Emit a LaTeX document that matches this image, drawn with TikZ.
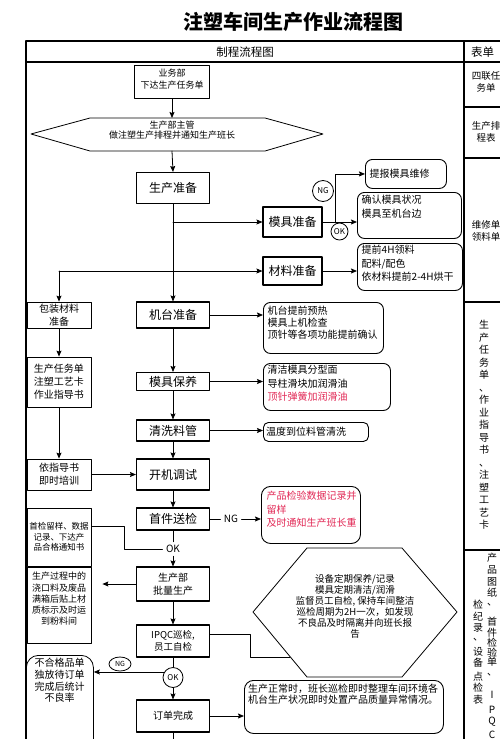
\documentclass[tikz,border=0pt]{standalone}
\usepackage{fontspec}
\setmainfont{Noto Sans CJK SC}
\usetikzlibrary{arrows.meta, shapes.geometric, calc}
\newcommand\fsz[2]{\fontsize{#1}{#2}\selectfont}
\definecolor{redtxt}{RGB}{225,40,85}

\begin{document}
\begin{tikzpicture}[line cap=round,line join=round,x=1pt,y=-1pt,
  frame/.style={line width=1.1pt},
  ln/.style={line width=0.8pt},
  arr/.style={-{Stealth[length=6pt,width=5pt,inset=1pt]},line width=0.8pt},
  box/.style={draw,line width=1.1pt,minimum width=73,inner sep=1pt,align=center,font=\fsz{12}{14}},
  lbox/.style={draw,line width=0.8pt,minimum width=64,inner sep=1pt,align=center,font=\fsz{10}{13}},
  rbox/.style={draw,line width=0.9pt,rounded corners=7pt,anchor=north west,inner sep=0pt},
  btxt/.style={anchor=north west,align=left,inner xsep=4.5pt,inner ysep=3pt,font=\fsz{10}{13.5}},
  ring/.style={draw,circle,line width=0.8pt,inner sep=0pt,font=\fsz{8}{9}}]

\useasboundingbox (0,0) rectangle (500,739);
\clip (0,0) rectangle (500,739);

%標題與表格
\node[font=\fsz{20}{24}\bfseries] (title) at (293,22) {注塑车间生产作业流程图};
\draw[frame] (510,41) -- (26,41) -- (26,745);
\draw[frame] (26,62) -- (510,62);
\draw[frame] (464,41) -- (464,745);
\foreach \y in {107,158,302,550}
  \draw[frame] (464,\y) -- (510,\y);
\node[font=\fsz{11.5}{13}] (hd1) at (245,52) {制程流程图};
\node[font=\fsz{11.5}{13},anchor=west,inner sep=0pt] (hd2) at (471,52) {表单};

%表單欄
\node[font=\fsz{9.5}{12.5},align=center] (fm1) at (486,82) {四联任\\务单};
\node[font=\fsz{9.5}{12.5},align=center] (fm2) at (486,132) {生产排\\程表};
\node[font=\fsz{9.5}{12.5},align=center] (fm3) at (486,231) {维修单\\领料单};
\node[font=\fsz{10}{12.5},align=center,inner sep=0pt] (fm4) at (484,425) {生\\产\\任\\务\\单\\、\\作\\业\\指\\导\\书\\、\\注\\塑\\工\\艺\\卡};
\foreach \c/\y [count=\i] in {产/558,品/570,图/582,纸/593,、/605,首/622,件/633,检/643,验/653,单/662,、/675,I/695,P/710,Q/722,C/735}
  \node[font=\fsz{10}{12},inner sep=0pt] (fa\i) at (492,\y) {\c};
\foreach \c/\y [count=\i] in {检/605,纪/617,录/628,、/640,设/652,备/663,点/677,检/688,表/700}
  \node[font=\fsz{10}{12},inner sep=0pt] (fb\i) at (478,\y) {\c};

%主流程
\node[box,font=\fsz{9}{12},minimum width=75,minimum height=33] (ywb) at (172,82) {业务部\\下达生产任务单\rule[-7pt]{0pt}{7pt}};
\draw[ln] (31,134) -- (90,118) -- (265,118) -- (323,134) -- (265,151) -- (90,151) -- cycle;
\coordinate (zgt) at (172,118);
\coordinate (zgb) at (172,151);
\node[font=\fsz{9}{10.5},align=center] (zg) at (172,130) {生产部主管\\做注塑生产排程并通知生产班长};

\node[box,minimum height=31] (sczb) at (173,188) {生产准备};
\node[box,minimum width=59,minimum height=30] (mjzb) at (292.5,222) {模具准备};
\node[box,minimum width=59,minimum height=28] (clzb) at (292.5,271) {材料准备};
\node[lbox,minimum height=26] (bzcl) at (59,315) {包装材料\\准备};
\node[box,minimum height=26] (jtzb) at (173,315) {机台准备};
\node[box,minimum height=18] (mjby) at (173,381.5) {模具保养};
\node[box,minimum height=21] (qxlg) at (173,430.5) {清洗料管};
\node[box,minimum height=31] (kjts) at (173,474.5) {开机调试};
\node[box,minimum height=22] (sjsj) at (173,519) {首件送检};
\node[box,font=\fsz{10}{13},minimum height=34] (scb) at (173,584) {生产部\\批量生产};
\node[box,font=\fsz{9.5}{12},minimum height=32] (ipqc) at (173,641) {IPQC巡检,\\员工自检};
\node[box,font=\fsz{10}{12},minimum height=32] (ddwc) at (173,716) {订单完成};

%左側
\node[lbox,minimum height=50] (rwd) at (59,382) {生产任务单\\注塑工艺卡\\作业指导书};
\node[lbox,minimum height=31] (yzd) at (59,474.5) {依指导书\\即时培训};
\node[lbox,font=\fsz{8.5}{10.7},minimum height=58] (sjly) at (59,537) {首检留样、数据\\记录、下达产\\品合格通知书};
\node[lbox,font=\fsz{9}{11.2},minimum height=76] (scgc) at (59,605) {生产过程中的\\浇口料及废品\\满箱后贴上材\\质标示及时运\\到粉料间\rule[-13pt]{0pt}{13pt}};
\node[draw,line width=0.8pt,rounded corners=12pt,anchor=north west,minimum width=67,minimum height=105] (bhg) at (26,655) {};
\node[font=\fsz{10}{11.7},align=center] (bhg-t) at (59.5,680.5) {不合格品单\\独放待订单\\完成后统计\\不良率};

%右側
\node[rbox,minimum width=81,minimum height=29] (tbwx) at (365,159) {};
\node[btxt,anchor=west] (tbwx-t) at (tbwx.west) {提报模具维修};
\node[rbox,minimum width=104,minimum height=46] (qrmj) at (357,192) {};
\node[btxt] (qrmj-t) at (qrmj.north west) {确认模具状况\\模具至机台边};
\node[rbox,minimum width=105,minimum height=47] (clbx) at (357,243) {};
\node[btxt,inner ysep=2pt] (clbx-t) at (clbx.north west) {提前4H领料\\配料/配色\\依材料提前2-4H烘干};
\node[rbox,minimum width=120,minimum height=51] (jtbx) at (263,302) {};
\node[btxt,font=\fsz{10}{11.8},inner ysep=4pt] (jtbx-t) at (jtbx.north west) {机台提前预热\\模具上机检查\\顶针等各项功能提前确认};
\node[rbox,minimum width=127,minimum height=47] (mjbx) at (263,363) {};
\node[btxt,inner ysep=2pt] (mjbx-t) at (mjbx.north west) {清洁模具分型面\\导柱滑块加润滑油\\\textcolor{redtxt}{顶针弹簧加润滑油}};
\node[rbox,minimum width=105,minimum height=19,rounded corners=5pt] (wdbx) at (263,422) {};
\node[btxt,anchor=west,inner xsep=3pt] (wdbx-t) at (wdbx.west) {温度到位料管清洗};
\node[rbox,minimum width=99,minimum height=57,rounded corners=9pt] (jybx) at (261,486) {};
\node[btxt,text=redtxt,inner ysep=5pt,inner xsep=5.5pt] (jybx-t) at (jybx.north west) {产品检验数据记录并\\留样\\及时通知生产班长重};
\node[rbox,minimum width=199,minimum height=53,rounded corners=9pt] (zcbx) at (244,680) {};
\node[btxt,font=\fsz{10}{11},inner ysep=4pt,inner xsep=4pt] (zcbx-t) at (zcbx.north west) {生产正常时，班长巡检即时整理车间环境各\\机台生产状况即时处置产品质量异常情况。};

%巡檢
\draw[ln] (307,548) -- (402,548) -- (457,612) -- (402,677) -- (307,677) -- (253,612) -- cycle;
\node[font=\fsz{9.5}{11},align=center] (xj) at (355,606) {设备定期保养/记录\\模具定期清洁/润滑\\监督员工自检, 保持车间整洁\\巡检周期为2H一次，如发现\\不良品及时隔离并向班长报\\告};
\coordinate (xjin) at (290,657);

%判定
\node[ring,minimum size=21] (ng1) at (323,191) {NG};
\node[ring,minimum size=17] (ok1) at (339.5,231.5) {OK};
\node[font=\fsz{10}{12}] (ng2) at (231,519) {NG};
\node[font=\fsz{10}{12}] (ok2) at (173,549) {OK};
\node[ring,minimum size=20] (ok3) at (173,677.5) {OK};
\node[draw,ellipse,line width=0.8pt,inner sep=0pt,minimum width=22,minimum height=14,font=\fsz{7}{8}] (ng3) at (120,664) {NG};

%連線
\draw[arr] (ywb.south) -- (zgt);
\draw[arr] (zgb) -- (sczb.north);
\draw[arr] (sczb.south) -- (jtzb.north);
\draw[arr] (sczb.south |- mjzb.west) -- (mjzb.west);
\draw[arr] (bzcl.north |- clzb.west) -- (clzb.west);
\draw[arr] (bzcl.north |- clzb.west) -- (bzcl.north);
\coordinate (fk) at ($(mjzb.east)+(13,0)$);
\draw[arr] (mjzb.east) -- (mjzb.east -| qrmj.west);
\draw[arr] (fk) |- (tbwx.west);
\draw[arr] (clzb.east) -- (clzb.east -| clbx.west);
\draw[arr] (jtzb.east) -- (jtzb.east -| jtbx.west);
\draw[arr] (jtzb.south) -- (mjby.north);
\draw[arr] (mjby.east) -- (mjby.east -| mjbx.west);
\draw[arr] (mjby.south) -- (qxlg.north);
\draw[arr] (qxlg.east) -- (qxlg.east -| wdbx.west);
\draw[arr] (qxlg.south) -- (kjts.north);
\draw[arr] (bzcl.south) -- (rwd.north);
\draw[arr] (rwd.south) -- (yzd.north);
\draw[arr] (yzd.east) -- (kjts.west);
\draw[arr] (kjts.south) -- (sjsj.north);
\draw[ln] (sjsj.east) -- (ng2.west);
\draw[arr] (ng2.east) -- (ng2.east -| jybx.west);
\draw[ln] (sjsj.south) -- (ok2.north);
\draw[arr] (ok2.south) -- (scb.north);
\draw[ln] ([yshift=11pt]sjly.east) -| ([xshift=-38pt]ok2.west) -- (ok2.west);
\draw[arr,shorten >=11pt] (scb.west) -- (scb.west -| scgc.east);
\draw[arr] (scb.south) -- (ipqc.north);
\draw[ln] ([yshift=7pt]ipqc.east) -| ([xshift=-40pt]xjin) -- (xjin);
\draw[ln] (ipqc.south) -- (ok3.north);
\draw[arr] (ok3.south) -- (ddwc.north);
\draw[arr] (ok3.148) -- (ok3.148 -| bhg.east);
\draw[arr] (ddwc.east) -- (ddwc.east -| zcbx.west);
\draw[ln] (ddwc.south) -- ++(0,15);
\end{tikzpicture}
\end{document}
